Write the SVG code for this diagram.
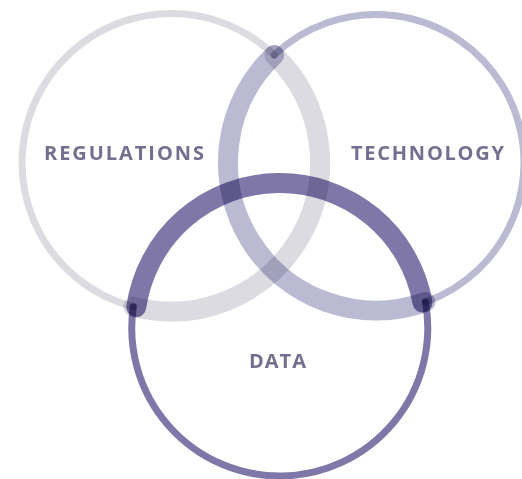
<svg xmlns="http://www.w3.org/2000/svg" width="522" height="479" viewBox="0 0 522 479">
  <style>
    .arc { fill: none; stroke-linecap: round; mix-blend-mode: multiply; }
    .thin { stroke-width: 7; }
    .thick { stroke-width: 20; }
    .reg { stroke: #dcdbe1; }
    .tech { stroke: #bbbad3; }
    .data { stroke: #8077a9; }
    .label { font-family: "Open Sans", "Liberation Sans", sans-serif; font-weight: 700; font-size: 20px; fill: #736f8f; }
  </style>
  <rect x="0" y="0" width="522" height="479" fill="#ffffff"/>
  <g id="node-regulations">
    <path class="arc thin reg" d="M 274.22 55.05 A 149 149 0 1 0 133.3 306.7"/>
    <path class="arc thick reg" d="M 274.22 55.05 A 149 149 0 0 1 133.3 306.7"/>
    <text class="label" x="44" y="160" textLength="160" lengthAdjust="spacing">REGULATIONS</text>
  </g>
  <g id="node-technology">
    <path class="arc thin tech" d="M 274.22 55.05 A 148 148 0 1 1 425.46 302.0"/>
    <path class="arc thick tech" d="M 274.22 55.05 A 148 148 0 0 0 425.46 302.0"/>
    <text class="label" x="351" y="160" textLength="153" lengthAdjust="spacing">TECHNOLOGY</text>
  </g>
  <g id="node-data">
    <path class="arc thin data" d="M 133.3 306.7 A 148 148 0 1 0 425.46 302.0"/>
    <path class="arc thick data" d="M 136.26 307.12 A 145 145 0 0 1 422.49 302.52"/>
    <text class="label" x="249" y="368" textLength="57" lengthAdjust="spacing">DATA</text>
  </g>
  <g id="connectors"/>
</svg>
